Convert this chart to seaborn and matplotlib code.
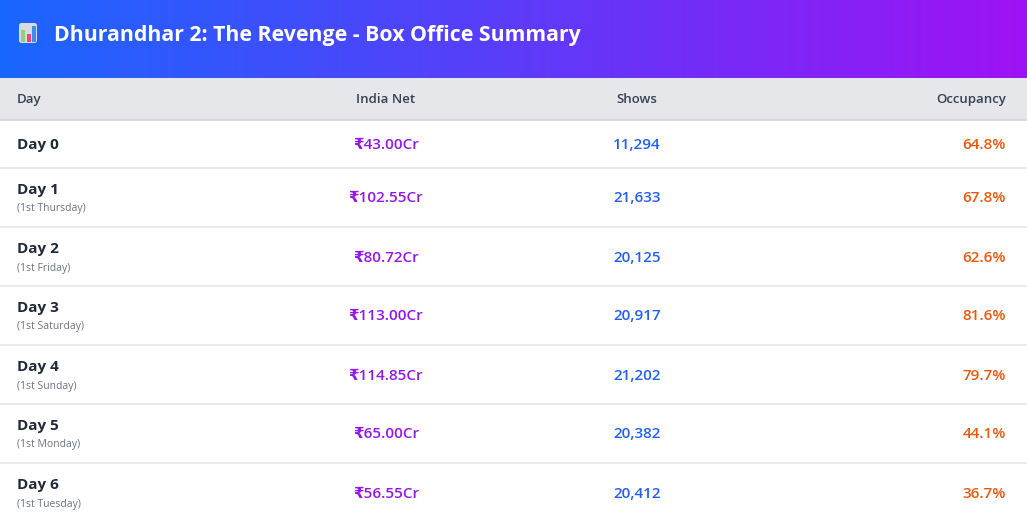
import numpy as np
import matplotlib
matplotlib.use("Agg")
import matplotlib.pyplot as plt
from matplotlib.patches import Rectangle, FancyBboxPatch
import seaborn as sns

# table data
title = "Dhurandhar 2: The Revenge - Box Office Summary"
columns = ["Day", "India Net", "Shows", "Occupancy"]
days = ["Day 0", "Day 1", "Day 2", "Day 3", "Day 4", "Day 5", "Day 6"]
weekdays = ["", "(1st Thursday)", "(1st Friday)", "(1st Saturday)",
            "(1st Sunday)", "(1st Monday)", "(1st Tuesday)"]
india_net = [43.00, 102.55, 80.72, 113.00, 114.85, 65.00, 56.55]
shows = [11294, 21633, 20125, 20917, 21202, 20382, 20412]
occupancy = [64.8, 67.8, 62.6, 81.6, 79.7, 44.1, 36.7]

sns.set_theme(style="white")
plt.rcParams['font.family'] = ['Open Sans', 'DejaVu Sans']

W, H = 1027, 522
fig = plt.figure(figsize=(W / 100, H / 100), dpi=100)
ax = fig.add_axes([0, 0, 1, 1])
ax.set_xlim(0, W)
ax.set_ylim(H, 0)
ax.axis("off")

# gradient banner
grad = np.linspace(0, 1, 256)
c0 = np.array([0.10, 0.40, 1.00])
c1 = np.array([0.62, 0.07, 0.96])
img = c0[None, :] * (1 - grad[:, None]) + c1[None, :] * grad[:, None]
ax.imshow(img[None, :, :], extent=[0, W, 78, 0], aspect="auto", zorder=0)

# icon (bar chart emoji)
ax.add_patch(FancyBboxPatch((19, 23), 18, 20, boxstyle="round,pad=0,rounding_size=2.5",
                            fc="#d9d9e3", ec="none", zorder=2))
for bx, bt, col in [(21, 30, "#8fd46a"), (26.5, 34, "#f0447a"), (32, 26, "#3b8ef0")]:
    ax.add_patch(Rectangle((bx, bt), 4, 41.5 - bt, fc=col, ec="none", zorder=3))

ax.text(54, 35, title, color="white", fontsize=15.3, fontweight="bold",
        va="center", ha="left", zorder=3)

# column header band
ax.add_patch(Rectangle((0, 78), W, 42, fc="#e5e7eb", ec="none", zorder=1))
ax.plot([0, W], [120, 120], color="#d1d5db", lw=1.2, zorder=2)

col_x = [17, 386, 637, 1006]
col_ha = ["left", "center", "center", "right"]
for name, x, ha in zip(columns, col_x, col_ha):
    ax.text(x, 99.5, name, color="#374151", fontsize=9.5, fontweight="semibold",
            ha=ha, va="center")

# body rows
top = 120
for i in range(len(days)):
    h = 59 if weekdays[i] else 48
    mid = top + h / 2 + 1
    if weekdays[i]:
        ax.text(col_x[0], top + 22, days[i], color="#1f2937", fontsize=11,
                fontweight="bold", ha="left", va="center")
        ax.text(col_x[0], top + 41, weekdays[i], color="#6b7280", fontsize=7.5,
                ha="left", va="center")
    else:
        ax.text(col_x[0], mid, days[i], color="#1f2937", fontsize=11,
                fontweight="bold", ha="left", va="center")
    ax.text(col_x[1], mid, f"\u20b9{india_net[i]:.2f}Cr", color="#9317ea",
            fontsize=11, fontweight="semibold", ha="center", va="center")
    ax.text(col_x[2], mid, f"{shows[i]:,}", color="#2460f0",
            fontsize=11, fontweight="semibold", ha="center", va="center")
    ax.text(col_x[3], mid, f"{occupancy[i]:.1f}%", color="#ea580c",
            fontsize=11, fontweight="semibold", ha="right", va="center")
    top += h
    if i < len(days) - 1:
        ax.plot([0, W], [top, top], color="#e5e7eb", lw=1.2, zorder=2)

fig.savefig("out.png", dpi=100)
